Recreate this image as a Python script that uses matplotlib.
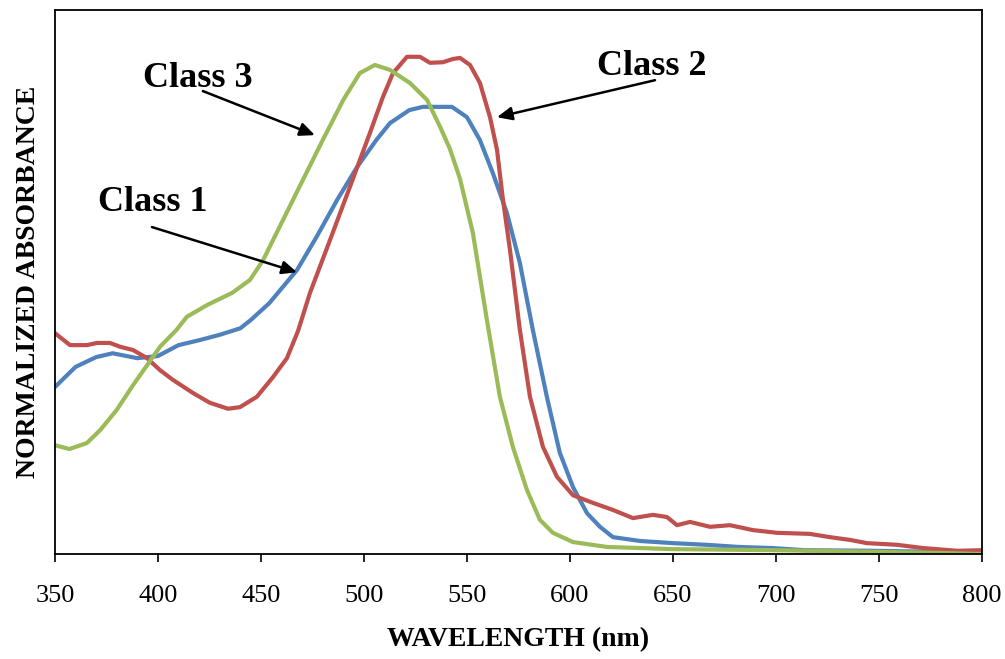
import matplotlib
matplotlib.use('Agg')
import matplotlib.pyplot as plt

plt.rcParams['font.family'] = ['Liberation Serif', 'DejaVu Serif']

# Class 1 (blue)
wl_1 = [350, 360, 370, 378, 390, 400, 410, 420, 430, 440, 445, 454, 467.5, 477, 487,
        496.6, 506, 512.6, 522, 528.6, 542.7, 550, 556.3, 562.6, 569.4, 575.7, 582,
        588.8, 595.1, 601.5, 608.3, 614.6, 620.9, 634, 650, 666, 682, 698, 714, 746,
        779, 800]
abs_1 = [0.307, 0.344, 0.362, 0.369, 0.360, 0.364, 0.384, 0.393, 0.403, 0.415, 0.430,
         0.461, 0.522, 0.583, 0.651, 0.711, 0.761, 0.792, 0.816, 0.822, 0.822, 0.803,
         0.761, 0.700, 0.627, 0.535, 0.412, 0.289, 0.186, 0.123, 0.075, 0.050, 0.031,
         0.024, 0.020, 0.017, 0.013, 0.011, 0.007, 0.006, 0.004, 0.002]

# Class 2 (red)
wl_2 = [350, 357.3, 365.5, 370.4, 376.7, 381.6, 387.9, 394.7, 401, 407.3, 417, 425.2,
        434, 439.8, 448, 455.8, 462.6, 468, 473.8, 483.5, 493.2, 502.9, 509.2, 514.1,
        520.9, 527.2, 532, 538.3, 543.2, 546.6, 551.5, 556.3, 561.2, 564.6, 567.5,
        570.9, 575.7, 580.6, 586.9, 593.7, 601.5, 611.2, 620.9, 630.6, 640.3, 647.1,
        652, 658.3, 668, 677.7, 688.8, 700.5, 716.5, 726.2, 735.9, 744.2, 758.7,
        771.4, 787.9, 800]
abs_2 = [0.406, 0.384, 0.384, 0.388, 0.388, 0.381, 0.375, 0.360, 0.338, 0.320, 0.296,
         0.278, 0.267, 0.270, 0.289, 0.325, 0.360, 0.410, 0.480, 0.577, 0.675, 0.774,
         0.840, 0.884, 0.914, 0.914, 0.903, 0.904, 0.910, 0.912, 0.899, 0.866, 0.803,
         0.743, 0.651, 0.559, 0.412, 0.289, 0.197, 0.142, 0.108, 0.094, 0.081, 0.066,
         0.072, 0.068, 0.053, 0.059, 0.050, 0.053, 0.044, 0.039, 0.037, 0.031, 0.026,
         0.020, 0.017, 0.011, 0.006, 0.007]

# Class 3 (green)
wl_3 = [350, 357, 365.5, 372, 380, 388, 394.7, 401, 409, 414, 424, 436, 444.7, 451,
        460.7, 470.4, 480, 490, 498, 505.3, 512.6, 522.3, 530.6, 537, 541.7, 546.6,
        552.9, 559.7, 566, 572.3, 579.1, 585.4, 591.7, 601.5, 618, 650, 700, 750, 780,
        800]
abs_3 = [0.200, 0.193, 0.204, 0.228, 0.265, 0.311, 0.347, 0.381, 0.412, 0.436, 0.458,
         0.480, 0.504, 0.540, 0.614, 0.688, 0.761, 0.835, 0.884, 0.899, 0.890, 0.866,
         0.835, 0.785, 0.745, 0.690, 0.590, 0.430, 0.289, 0.197, 0.118, 0.063, 0.039,
         0.022, 0.013, 0.009, 0.007, 0.004, 0.002, 0.000]

x_ticks = [350, 400, 450, 500, 550, 600, 650, 700, 750, 800]

fig = plt.figure(figsize=(10.05, 6.59), dpi=100)
ax = fig.add_axes([0.0547, 0.1593, 0.9223, 0.8255])

ax.plot(wl_1, abs_1, color='#4F81BD', lw=3, solid_joinstyle='round')
ax.plot(wl_2, abs_2, color='#C0504D', lw=3, solid_joinstyle='round')
ax.plot(wl_3, abs_3, color='#9BBB59', lw=3, solid_joinstyle='round')

ax.set_xlim(350, 800)
ax.set_ylim(0, 1)
ax.set_xticks(x_ticks)
ax.set_yticks([])
ax.tick_params(axis='x', direction='out', length=6, width=1.2, labelsize=19, pad=16)
for s in ax.spines.values():
    s.set_linewidth(1.3)

ax.set_xlabel('WAVELENGTH (nm)', fontsize=20, fontweight='bold', labelpad=15)
ax.set_ylabel('NORMALIZED ABSORBANCE', fontsize=20, fontweight='bold', labelpad=10)

arrow = dict(arrowstyle='-|>,head_length=0.9,head_width=0.4', color='black', lw=1.8,
             shrinkA=0, shrinkB=0)
ax.text(392.7, 0.858, 'Class 3', fontsize=26, fontweight='bold')
ax.annotate('', xy=(476.2, 0.770), xytext=(421.8, 0.851), arrowprops=arrow)
ax.text(370.9, 0.631, 'Class 1', fontsize=26, fontweight='bold')
ax.annotate('', xy=(467.5, 0.518), xytext=(397.1, 0.601), arrowprops=arrow)
ax.text(613.1, 0.881, 'Class 2', fontsize=26, fontweight='bold')
ax.annotate('', xy=(564.6, 0.803), xytext=(641.3, 0.871), arrowprops=arrow)

fig.savefig('out.png', dpi=100)
